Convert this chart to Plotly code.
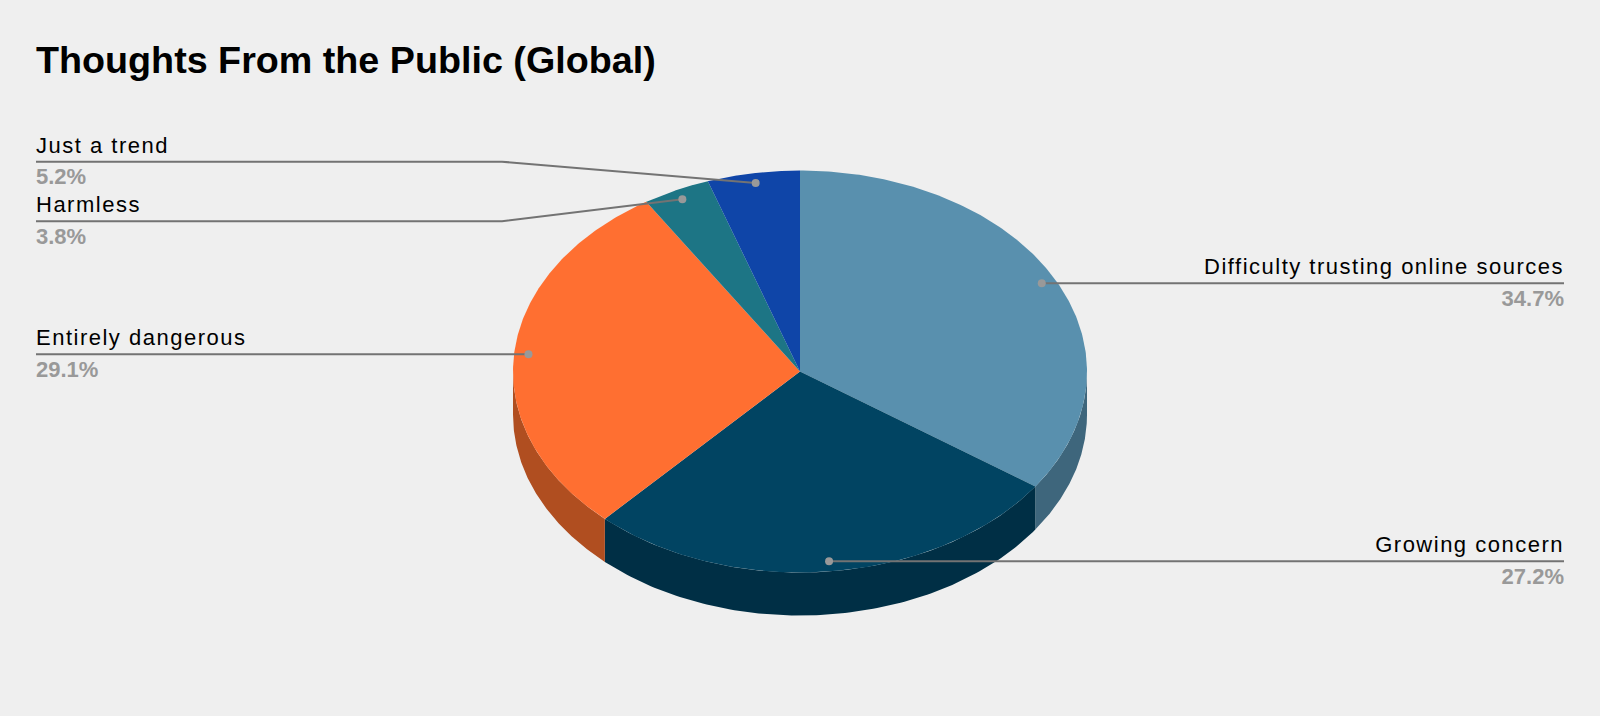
import json
import numpy as np
import plotly.graph_objects as go

TITLE = "Thoughts From the Public (Global)"
categories = ["Difficulty trusting online sources", "Growing concern", "Entirely dangerous", "Harmless", "Just a trend"]
shares = [34.7, 27.2, 29.1, 3.8, 5.2]
top_colors = ["#5990AE", "#014462", "#FF6F31", "#1D7585", "#0F45A8"]
side_colors = ["#3E667C", "#002F45", "#B04E20", "#145260", "#0A3076"]

BG = "#EFEFEF"
W, H = 1600, 716
CX, CY, RX, RY, DEPTH = 800, 371.5, 287, 201, 43
DOT_R = 0.95
LEFT, RIGHT, ELBOW = 36, 1564, 502
leader_side = ["right", "right", "left", "left", "left"]
leader_y = [None, None, None, 221.3, 161.7]
LABEL_FONT, VALUE_FONT = 22, 22
LABEL_SPACING = 1.5


def pt(theta, z=0.0, r=1.0):
    return CX + RX * r * np.sin(theta), CY - RY * r * np.cos(theta) + z


edges = np.cumsum([0] + shares) / sum(shares) * 2 * np.pi
fig = go.Figure()

# side walls (only the front half of the disc is visible)
for i, c in enumerate(side_colors):
    a, b = max(edges[i], np.pi / 2), min(edges[i + 1], 3 * np.pi / 2)
    if b <= a:
        continue
    t = np.linspace(a, b, 120)
    xt, yt = pt(t)
    xb, yb = pt(t[::-1], DEPTH)
    fig.add_trace(go.Scatter(x=np.r_[xt, xb, xt[0]], y=np.r_[yt, yb, yt[0]], mode="lines", fill="toself",
                             fillcolor=c, line=dict(width=0), hoverinfo="skip", showlegend=False))

# top faces
for i, c in enumerate(top_colors):
    t = np.linspace(edges[i], edges[i + 1], 200)
    x, y = pt(t)
    fig.add_trace(go.Scatter(x=np.r_[CX, x, CX], y=np.r_[CY, y, CY], mode="lines", fill="toself",
                             fillcolor=c, line=dict(width=0), name=categories[i], text=f"{shares[i]}%",
                             hoverinfo="name+text", showlegend=False))

# leader lines, dots and labels
for i, name in enumerate(categories):
    mid = (edges[i] + edges[i + 1]) / 2
    dx, dy = pt(mid, r=DOT_R)
    ly = leader_y[i] if leader_y[i] is not None else dy
    if leader_side[i] == "right":
        xs, ys, tx, side = [dx, RIGHT], [dy, dy], RIGHT, "left"
    else:
        xs = [dx, ELBOW, LEFT] if leader_y[i] is not None else [dx, LEFT]
        ys = [dy, ly, ly] if leader_y[i] is not None else [dy, dy]
        tx, side = LEFT, "right"
    fig.add_trace(go.Scatter(x=xs, y=ys, mode="lines", line=dict(color="#737373", width=2),
                             hoverinfo="skip", showlegend=False))
    fig.add_trace(go.Scatter(x=[dx], y=[dy], mode="markers", marker=dict(color="#999999", size=8),
                             hoverinfo="skip", showlegend=False))
    fig.add_trace(go.Scatter(x=[tx], y=[ly - 3.5], mode="text", text=[name], textposition=f"top {side}",
                             textfont=dict(family="Liberation Sans", size=LABEL_FONT, color="#000000"),
                             hoverinfo="skip", showlegend=False))
    fig.add_trace(go.Scatter(x=[tx], y=[ly + 6], mode="text", text=[f"{shares[i]:.1f}%"],
                             textposition=f"bottom {side}",
                             textfont=dict(family="Liberation Sans", size=VALUE_FONT, color="#999999", weight="bold"),
                             hoverinfo="skip", showlegend=False))

fig.update_layout(
    width=W, height=H, margin=dict(l=0, r=0, t=0, b=0),
    paper_bgcolor=BG, plot_bgcolor=BG, showlegend=False,
    title=dict(text=f"<b>{TITLE}</b>", x=LEFT / W, xanchor="left", y=1 - 59.5 / H, yanchor="middle",
               font=dict(family="Liberation Sans", size=37.7, color="#000000")),
    xaxis=dict(range=[0, W], visible=False, fixedrange=True),
    yaxis=dict(range=[H, 0], visible=False, fixedrange=True),
)
post = (
    "document.body.style.margin='0';"
    f"var L={json.dumps(categories)};"
    "document.querySelectorAll('.textpoint text').forEach(function(t){"
    f"if(L.indexOf(t.textContent)>=0)t.style.letterSpacing='{LABEL_SPACING}px';}});"
)
fig.write_html("out.html", config=dict(displayModeBar=False), post_script=post)
